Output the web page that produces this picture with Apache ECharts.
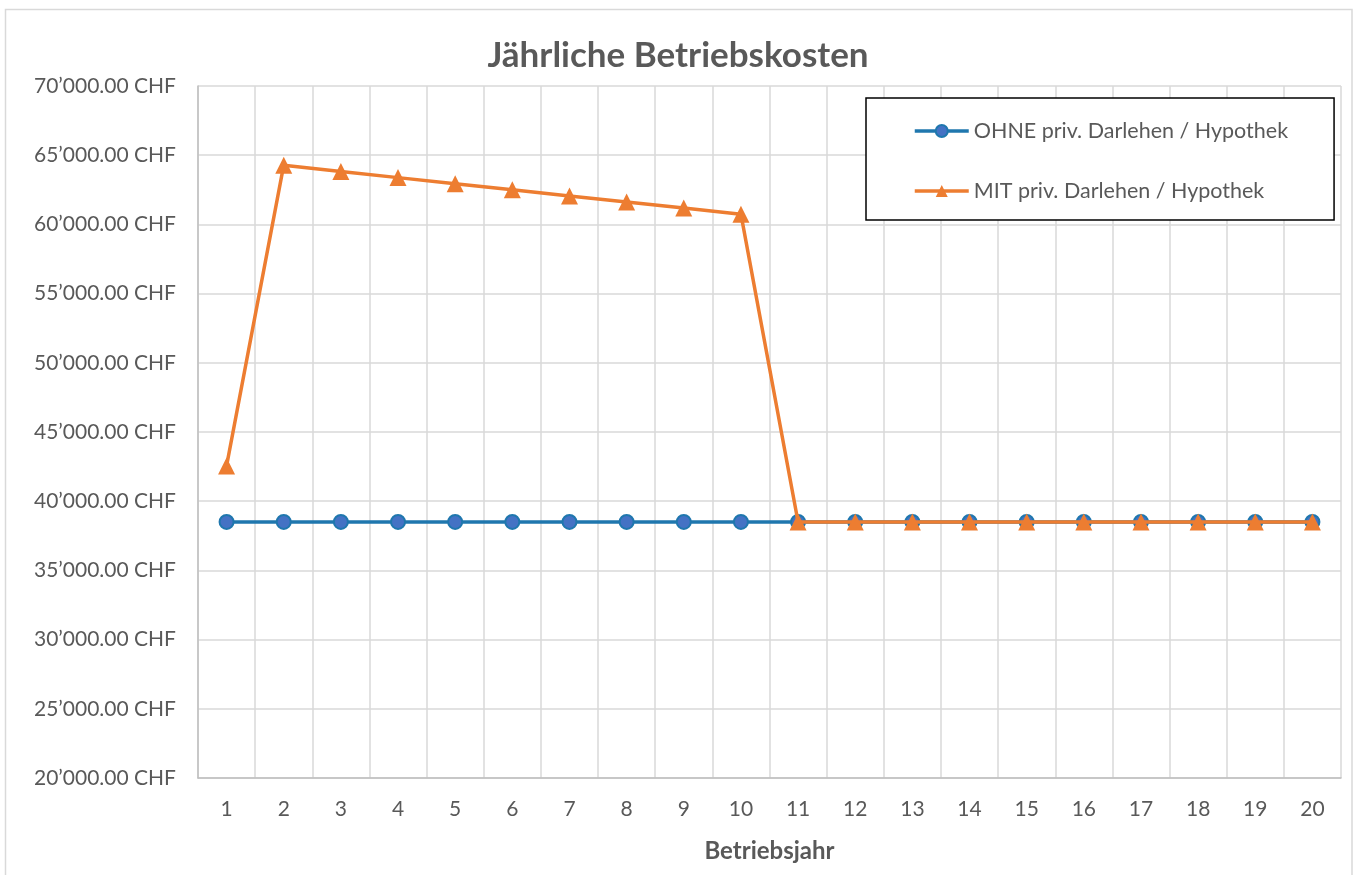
<!DOCTYPE html>
<html>
<head>
<meta charset="utf-8">
<script src="https://cdn.jsdelivr.net/npm/echarts@6/dist/echarts.min.js"></script>
<style>html,body{margin:0;padding:0;background:#fff;}#c{width:1356px;height:875px;}</style>
</head>
<body>
<div id="c"></div>
<script>
const categories = ['1','2','3','4','5','6','7','8','9','10','11','12','13','14','15','16','17','18','19','20'];
const ohneValues = [38500,38500,38500,38500,38500,38500,38500,38500,38500,38500,38500,38500,38500,38500,38500,38500,38500,38500,38500,38500];
const mitValues = [42550,64280,63830,63380,62940,62500,62060,61620,61180,60740,38500,38500,38500,38500,38500,38500,38500,38500,38500,38500];
const seriesNames = ['OHNE priv. Darlehen / Hypothek','MIT priv. Darlehen / Hypothek'];
const yMin = 20000, yMax = 70000, yStep = 5000;

const FONT = 'Lato, "Open Sans", sans-serif';
const chart = echarts.init(document.getElementById('c'), null, {renderer:'canvas'});
function fmt(v){
  const s = Math.round(v).toString();
  return s.slice(0, s.length-3) + '\u2019' + s.slice(-3) + '.00 CHF';
}
chart.setOption({
  animation:false,
  backgroundColor:'#fff',
  graphic:[{type:'rect', shape:{x:5.5,y:9.5,width:1346.5,height:880}, style:{fill:'none', stroke:'#d9d9d9', lineWidth:1.5}, silent:true}],
  title:{text:'Jährliche Betriebskosten', left:'center', top:33, textStyle:{fontFamily:FONT, fontSize:35, fontWeight:'bold', color:'#595959'}},
  legend:{
    orient:'vertical', left:866, top:98,
    padding:[22,46,18,47], itemGap:38, itemWidth:54, itemHeight:15,
    borderColor:'#000', borderWidth:1.5, backgroundColor:'#fff',
    lineStyle:{width:3.5},
    textStyle:{fontFamily:FONT, fontSize:21.5, color:'#595959', lineHeight:16},
    data:seriesNames
  },
  grid:{left:198, right:15, top:86, bottom:97, containLabel:false},
  xAxis:{
    type:'category', data:categories, boundaryGap:true,
    name:'Betriebsjahr', nameLocation:'middle', nameGap:61,
    nameTextStyle:{fontFamily:FONT, fontSize:24, fontWeight:'bold', color:'#595959'},
    axisLine:{lineStyle:{color:'#bfbfbf', width:1.5}},
    axisTick:{show:false},
    axisLabel:{fontFamily:FONT, fontSize:21, color:'#595959', margin:21, interval:0},
    splitLine:{show:true, interval:0, lineStyle:{color:'#d9d9d9', width:1.5}}
  },
  yAxis:{
    type:'value', min:yMin, max:yMax, interval:yStep,
    axisLine:{show:true, lineStyle:{color:'#bfbfbf', width:1.5}},
    axisTick:{show:false},
    axisLabel:{fontFamily:FONT, fontSize:21, color:'#595959', margin:22, formatter:fmt},
    splitLine:{show:true, lineStyle:{color:'#d9d9d9', width:1.5}}
  },
  series:[
    {name:seriesNames[0], type:'line', data:ohneValues, symbol:'circle', symbolSize:14,
     lineStyle:{color:'#1f77ae', width:3.5}, itemStyle:{color:'#4472c4', borderColor:'#1f77ae', borderWidth:2}, z:2},
    {name:seriesNames[1], type:'line', data:mitValues, symbol:'triangle', symbolSize:17,
     lineStyle:{color:'#ed7d31', width:3.5}, itemStyle:{color:'#ed7d31', borderWidth:0}, z:3}
  ]
});
</script>
</body>
</html>
